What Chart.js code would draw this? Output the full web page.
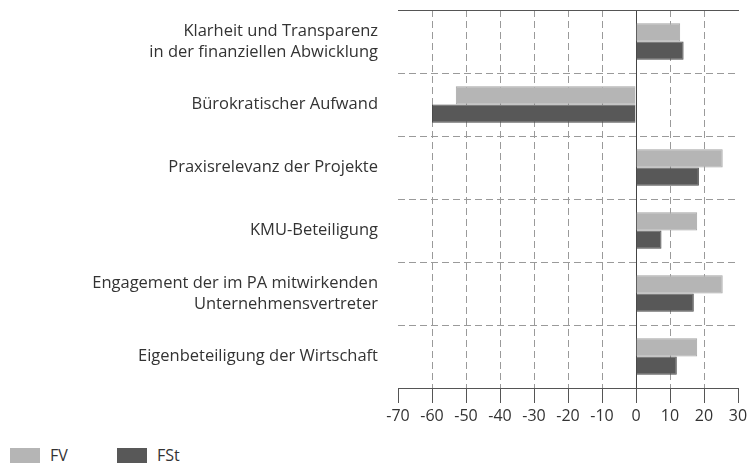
<!DOCTYPE html>
<html>
<head>
<meta charset="utf-8">
<script src="https://cdn.jsdelivr.net/npm/chart.js@4/dist/chart.umd.min.js"></script>
<style>
  body { margin: 0; background: #fff; }
  #wrap { position: relative; width: 747px; height: 466px; font-family: "Open Sans", sans-serif; color: #333; }
  #box { position: absolute; left: 0; top: 0; width: 747px; height: 440px; }
  .leg { position: absolute; top: 445px; font-size: 16px; line-height: 20px; }
  .leg span { display: inline-block; width: 30px; height: 15px; vertical-align: -2px; margin-right: 10px; }
</style>
</head>
<body>
<div id="wrap">
  <div id="box"><canvas id="chart"></canvas></div>
  <div class="leg" style="left:10px"><span style="background:#b5b5b5"></span>FV</div>
  <div class="leg" style="left:117px"><span style="background:#585858"></span>FSt</div>
</div>
<script>
// Kategorien (von oben nach unten)
var kategorien = [
    ['Klarheit und Transparenz', 'in der finanziellen Abwicklung'],
    'Bürokratischer Aufwand',
    'Praxisrelevanz der Projekte',
    'KMU-Beteiligung',
    ['Engagement der im PA mitwirkenden', 'Unternehmensvertreter'],
    'Eigenbeteiligung der Wirtschaft'
];
var werteFV = [13, -53, 25.5, 18, 25.5, 18];
var werteFSt = [14, -60, 18.5, 7.5, 17, 12];
var achseMin = -70, achseMax = 30, achseSchritt = 10;

var dash = [7, 4];

new Chart(document.getElementById('chart'), {
    type: 'bar',
    data: {
        labels: kategorien,
        datasets: [
            {
                label: 'FV',
                data: werteFV,
                backgroundColor: '#b5b5b5',
                borderColor: '#a5a5a5',
                borderWidth: 1,
                categoryPercentage: 0.58,
                barPercentage: 1.0
            },
            {
                label: 'FSt',
                data: werteFSt,
                backgroundColor: '#585858',
                borderColor: '#4a4a4a',
                borderWidth: 1,
                categoryPercentage: 0.58,
                barPercentage: 1.0
            }
        ]
    },
    options: {
        indexAxis: 'y',
        responsive: true,
        maintainAspectRatio: false,
        animation: false,
        layout: { padding: { left: 10, top: 10, right: 0, bottom: 0 } },
        plugins: {
            legend: { display: false },
            tooltip: { enabled: false }
        },
        scales: {
            x: {
                type: 'linear',
                position: 'bottom',
                min: achseMin,
                max: achseMax,
                ticks: {
                    stepSize: achseSchritt,
                    color: '#333',
                    padding: 4,
                    font: { family: 'Open Sans', size: 16 },
                    callback: function (v) { return v < 0 ? '-' + Math.abs(v) : '' + v; }
                },
                grid: {
                    color: function (ctx) {
                        var v = ctx.tick ? ctx.tick.value : null;
                        if (v === achseMin || v === achseMax) return 'rgba(0,0,0,0)';
                        if (v === 0) return '#444';
                        return '#9a9a9a';
                    },
                    lineWidth: 1,
                    tickLength: 15,
                    tickColor: '#555',
                    tickBorderDash: [],
                    drawTicks: true
                },
                border: {
                    display: true,
                    color: '#555',
                    width: 1,
                    dash: function (ctx) {
                        return ctx.tick && ctx.tick.value === 0 ? [] : dash;
                    }
                },
                afterFit: function (s) {
                    s.height = 52;
                    s.paddingRight = 9;
                }
            },
            x2: {
                type: 'linear',
                position: 'top',
                min: achseMin,
                max: achseMax,
                ticks: { display: false },
                grid: { display: false, drawTicks: false },
                border: { display: true, color: '#555', width: 1 },
                afterFit: function (s) { s.height = 0; }
            },
            y: {
                ticks: {
                    color: '#333',
                    padding: 20,
                    font: { family: 'Open Sans', size: 16.5, lineHeight: 1.25 }
                },
                grid: {
                    color: '#9a9a9a',
                    lineWidth: 1,
                    drawTicks: false,
                    offset: true
                },
                border: { display: false, dash: dash },
                afterFit: function (s) {
                    s.width = 388;
                    s.paddingTop = 0;
                    s.paddingBottom = 0;
                }
            }
        }
    }
});
</script>
</body>
</html>
